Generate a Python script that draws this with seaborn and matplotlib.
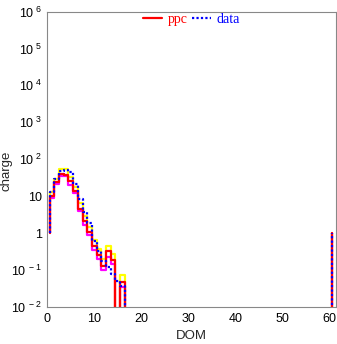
import numpy as np
import pandas as pd
import matplotlib
matplotlib.use("Agg")
import matplotlib.pyplot as plt
from matplotlib.ticker import FixedLocator, LogLocator, NullFormatter, MultipleLocator
import seaborn as sns

# ---- data (DOM 1..60, bins centred on integers) ----
dom = np.arange(1, 61)
ppc_head   = [10, 24, 39, 38, 25, 14, 4.5, 2.1, 1.1, 0.45, 0.25, 0.13, 0.32, 0.19, 0, 0.048, 0]
data_head  = [13, 29, 48, 50, 44, 21, 8.5, 3.8, 1.9, 0.6, 0.32, 0.18, 0.12, 0.08, 0.05, 0.036, 0]
upper_head = [13, 30, 55, 55, 33, 18, 6.5, 3.0, 1.5, 0.65, 0.38, 0.2, 0.45, 0.27, 0, 0.075, 0]
lower_head = [9, 22, 35, 35, 20, 12, 4.0, 1.7, 0.9, 0.35, 0.2, 0.1, 0.22, 0.15, 0, 0.035, 0]
baseline = 1.0   # outline starts/ends at log-zero level

def full(head):
    v = np.zeros(len(dom))
    v[:len(head)] = head
    return v

series = {
    "upper": (full(upper_head), "#ffff00", "-"),
    "lower": (full(lower_head), "#ff00ff", "-"),
    "ppc":   (full(ppc_head),   "#ff0000", "-"),
    "data":  (full(data_head),  "#0000ff", ":"),
}

def outline(vals):
    edges = np.concatenate([[dom[0] - 0.5], dom + 0.5])
    x = np.concatenate([[edges[0]], edges])
    y = np.concatenate([[baseline], vals, [baseline]])
    y = np.maximum(y, 1e-9)
    return pd.DataFrame({"x": x, "y": y})

sns.set_style("white")
plt.rcParams["font.family"] = ["Liberation Sans", "DejaVu Sans"]
plt.rcParams["mathtext.fontset"] = "custom"
plt.rcParams["mathtext.rm"] = "Liberation Sans"
plt.rcParams["mathtext.it"] = "Liberation Sans"

fig = plt.figure(figsize=(3.37, 3.44), dpi=100)
ax = fig.add_axes([47.3/337, 1-307/344, (336-47.3)/337, (307-11.5)/344])

lines = {}
for name, (vals, col, ls) in series.items():
    df = outline(vals)
    sns.lineplot(data=df, x="x", y="y", estimator=None, sort=False, ax=ax,
                 color=col, linewidth=1.6, drawstyle="steps-post", legend=False)
    ln = ax.get_lines()[-1]
    if ls == ":":
        ln.set_dashes((1, 1))
    lines[name] = ln

ax.set_yscale("log")
ax.set_xlim(0, 61.4)
ax.set_ylim(1e-2, 1e6)

# ticks
ax.xaxis.set_major_locator(MultipleLocator(10))
ax.xaxis.set_minor_locator(MultipleLocator(2))
ytick_vals = [10.0**k for k in range(-2, 7)]
ytick_labels = []
for k in range(-2, 7):
    if k == 0:
        ytick_labels.append("1")
    elif k == 1:
        ytick_labels.append("10")
    else:
        ytick_labels.append(r"$\mathregular{10^{\ %d}}$" % k)
ax.set_yticks(ytick_vals)
ax.set_yticklabels(ytick_labels)
ax.yaxis.set_minor_locator(LogLocator(base=10, subs=np.arange(2, 10), numticks=20))
ax.yaxis.set_minor_formatter(NullFormatter())

ax.tick_params(axis="both", which="both", direction="in", labelsize=9,
               colors="#888888", labelcolor="black", top=False, right=False)
ax.tick_params(axis="both", which="major", length=7, width=0.8, pad=4)
ax.tick_params(axis="both", which="minor", length=3.5, width=0.6)
for s in ax.spines.values():
    s.set_color("#888888")
    s.set_linewidth(0.8)

ax.set_xlabel("DOM", fontsize=9.5, labelpad=4)
ax.set_ylabel("charge", fontsize=9.5)
ax.yaxis.set_label_coords(-0.122, 0.46)

leg = ax.legend([lines["ppc"], lines["data"]], ["ppc", "data"], loc="upper center",
                bbox_to_anchor=(0.5, 1.015), ncol=2, frameon=False,
                prop={"family": "Liberation Serif", "size": 10},
                handlelength=1.4, handletextpad=0.4, columnspacing=0.3,
                labelcolor="linecolor", borderaxespad=0.0)

fig.savefig("out.png", dpi=100)
